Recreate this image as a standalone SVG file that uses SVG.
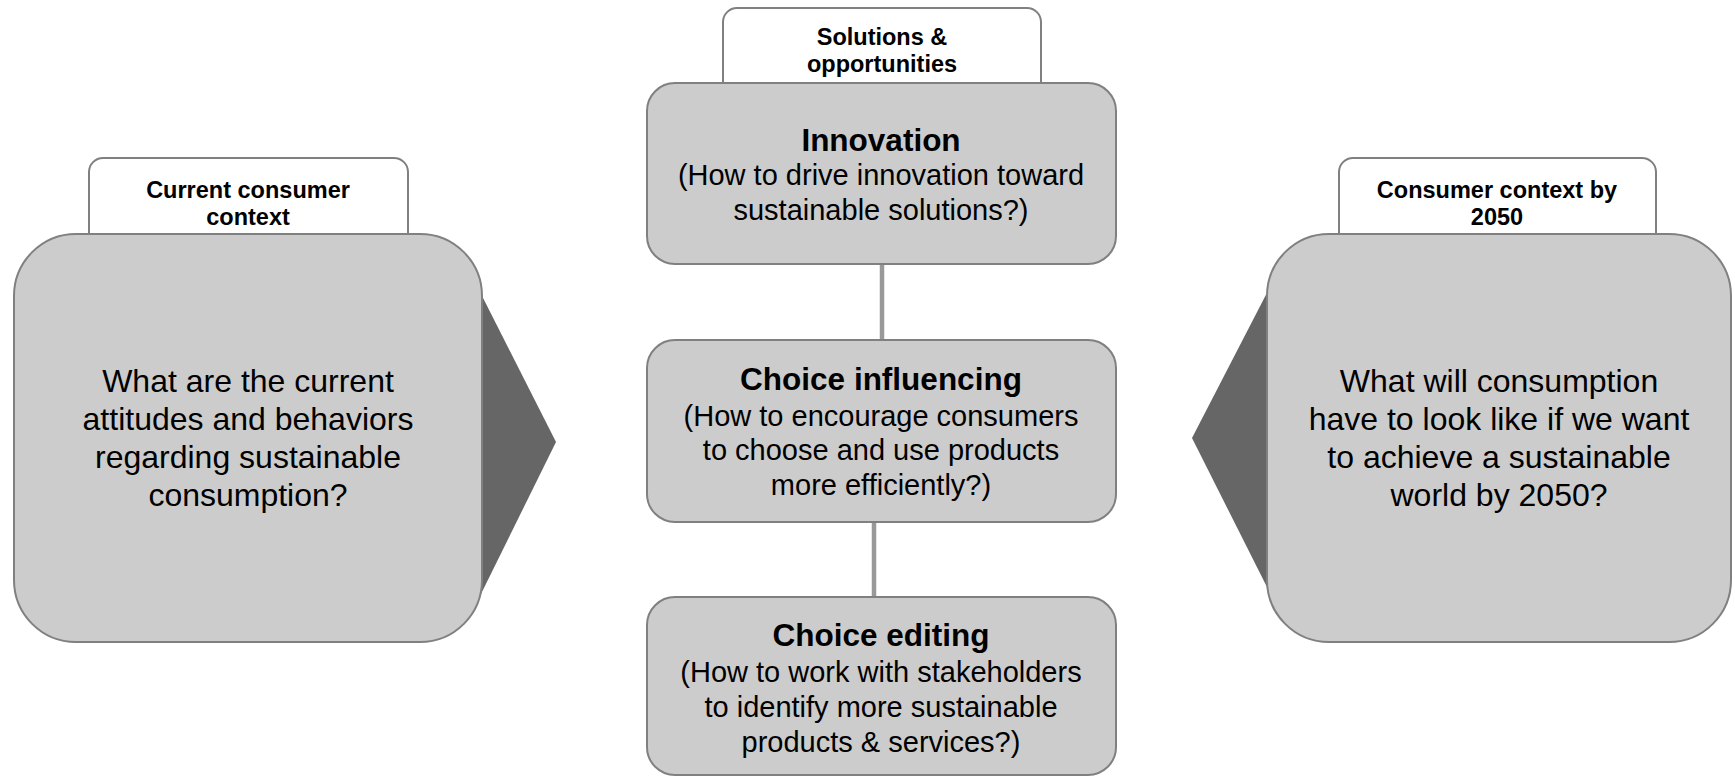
<svg xmlns="http://www.w3.org/2000/svg" width="1735" height="777" viewBox="0 0 1735 777">
<style>
.tab{fill:#ffffff;stroke:#808080;stroke-width:2}
.box{fill:#cccccc;stroke:#808080;stroke-width:2}
.tri{fill:#666666}
.conn{stroke:#999999;stroke-width:4.5;fill:none}
text{font-family:"Liberation Sans",Arial,sans-serif;fill:#000;text-anchor:middle}
.tt{font-size:23.5px;font-weight:bold}
.big{font-size:32px}
.title{font-size:31.5px;font-weight:bold}
.sub{font-size:29px}
</style>
<rect width="1735" height="777" fill="#ffffff"/>
<g id="connectors">
<line class="conn" x1="882" y1="264" x2="882" y2="340"/>
<line class="conn" x1="874" y1="522" x2="874" y2="597"/>
</g>
<g id="left-node">
<rect class="tab" x="89" y="158" width="319" height="90" rx="14"/>
<text class="tt" x="248" y="198">Current consumer</text>
<text class="tt" x="248" y="225">context</text>
<polygon class="tri" points="478,288 556,442 478,600"/>
<rect class="box" x="14" y="234" width="468" height="408" rx="62"/>
<text class="big" x="248" y="392">What are the current</text>
<text class="big" x="248" y="430">attitudes and behaviors</text>
<text class="big" x="248" y="468">regarding sustainable</text>
<text class="big" x="248" y="506">consumption?</text>
</g>
<g id="solutions-tab">
<rect class="tab" x="723" y="8" width="318" height="90" rx="14"/>
<text class="tt" x="882" y="45">Solutions &amp;</text>
<text class="tt" x="882" y="72">opportunities</text>
</g>
<g id="innovation">
<rect class="box" x="647" y="83" width="469" height="181" rx="28"/>
<text class="title" x="881" y="151">Innovation</text>
<text class="sub" x="881" y="185">(How to drive innovation toward</text>
<text class="sub" x="881" y="220">sustainable solutions?)</text>
</g>
<g id="choice-influencing">
<rect class="box" x="647" y="340" width="469" height="182" rx="28"/>
<text class="title" x="881" y="390">Choice influencing</text>
<text class="sub" x="881" y="426">(How to encourage consumers</text>
<text class="sub" x="881" y="460">to choose and use products</text>
<text class="sub" x="881" y="495">more efficiently?)</text>
</g>
<g id="choice-editing">
<rect class="box" x="647" y="597" width="469" height="178" rx="28"/>
<text class="title" x="881" y="646">Choice editing</text>
<text class="sub" x="881" y="682">(How to work with stakeholders</text>
<text class="sub" x="881" y="717">to identify more sustainable</text>
<text class="sub" x="881" y="752">products &amp; services?)</text>
</g>
<g id="right-node">
<rect class="tab" x="1339" y="158" width="317" height="90" rx="14"/>
<text class="tt" x="1497" y="198">Consumer context by</text>
<text class="tt" x="1497" y="225">2050</text>
<polygon class="tri" points="1271,285 1192,438 1271,595"/>
<rect class="box" x="1267" y="234" width="464" height="408" rx="62"/>
<text class="big" x="1499" y="392">What will consumption</text>
<text class="big" x="1499" y="430">have to look like if we want</text>
<text class="big" x="1499" y="468">to achieve a sustainable</text>
<text class="big" x="1499" y="506">world by 2050?</text>
</g>
</svg>
